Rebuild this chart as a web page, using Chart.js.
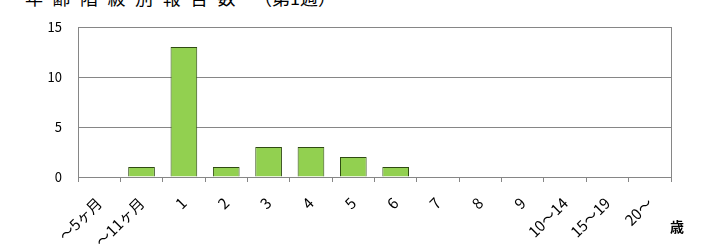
<!DOCTYPE html>
<html lang="ja">
<head>
    <meta charset="UTF-8">
    <title>年齢階級別報告数</title>
    <script src="https://cdn.jsdelivr.net/npm/chart.js"></script>
    <style>
        body { margin: 0; background: #fff; }
        .wrap { position: relative; width: 718px; height: 245px; overflow: hidden; }
        .title {
            position: absolute;
            left: 25px;
            top: -12px;
            font-family: "Noto Sans CJK JP", sans-serif;
            font-size: 18px;
            line-height: 18px;
            color: #000;
            white-space: nowrap;
        }
        .title .main { letter-spacing: 9.5px; }
        canvas { position: absolute; left: 0; top: 0; }
    </style>
</head>
<body>
<div class="wrap">
    <div class="title"><span class="main">年齢階級別報告数</span>　（第1週）</div>
    <canvas id="ageChart" width="718" height="245"></canvas>
</div>
<script>
    // age groups (x categories) and report counts
    const ageGroups = ['～5ヶ月', '～11ヶ月', '1', '2', '3', '4', '5', '6', '7', '8', '9', '10～14', '15～19', '20～'];
    const reports = [0, 1, 13, 1, 3, 3, 2, 1, 0, 0, 0, 0, 0, 0];
    const yTicks = [0, 5, 10, 15];
    const unitLabel = '歳';

    // plot frame + unit label
    const framePlugin = {
        id: 'frame',
        afterDraw(chart) {
            const a = chart.chartArea;
            const ctx = chart.ctx;
            ctx.save();
            ctx.strokeStyle = '#868686';
            ctx.lineWidth = 1;
            ctx.strokeRect(Math.round(a.left) + 0.5, Math.round(a.top) + 0.5,
                Math.round(a.right - a.left), Math.round(a.bottom - a.top));
            ctx.fillStyle = '#000';
            ctx.font = 'bold 14px "Noto Sans CJK JP"';
            ctx.textAlign = 'left';
            ctx.textBaseline = 'middle';
            ctx.fillText(unitLabel, a.right - 1, a.bottom + 50);
            ctx.restore();
        }
    };

    new Chart(document.getElementById('ageChart'), {
        type: 'bar',
        data: {
            labels: ageGroups,
            datasets: [{
                data: reports,
                backgroundColor: '#92D050',
                borderColor: '#2f4a12',
                borderWidth: 1,
                categoryPercentage: 1,
                barPercentage: 0.63
            }]
        },
        options: {
            responsive: false,
            animation: false,
            layout: { padding: { left: 0, right: 47, top: 27, bottom: 0 } },
            plugins: { legend: { display: false }, tooltip: { enabled: false } },
            scales: {
                x: {
                    offset: true,
                    grid: { drawOnChartArea: false, tickLength: 5, color: '#868686', offset: true },
                    border: { color: '#868686' },
                    ticks: {
                        color: '#000',
                        font: { family: '"Noto Sans CJK JP"', size: 15 },
                        minRotation: 45,
                        maxRotation: 45,
                        autoSkip: false,
                        padding: 12
                    },
                    afterFit(scale) { scale.height = 68; }
                },
                y: {
                    min: 0,
                    max: 15,
                    afterBuildTicks(scale) { scale.ticks = yTicks.map(v => ({ value: v })); },
                    grid: { color: '#868686', drawTicks: false },
                    border: { color: '#868686' },
                    ticks: {
                        color: '#000',
                        font: { family: '"Noto Sans CJK JP"', size: 13 },
                        padding: 16
                    },
                    afterFit(scale) { scale.width = 78; }
                }
            }
        },
        plugins: [framePlugin]
    });
</script>
</body>
</html>
